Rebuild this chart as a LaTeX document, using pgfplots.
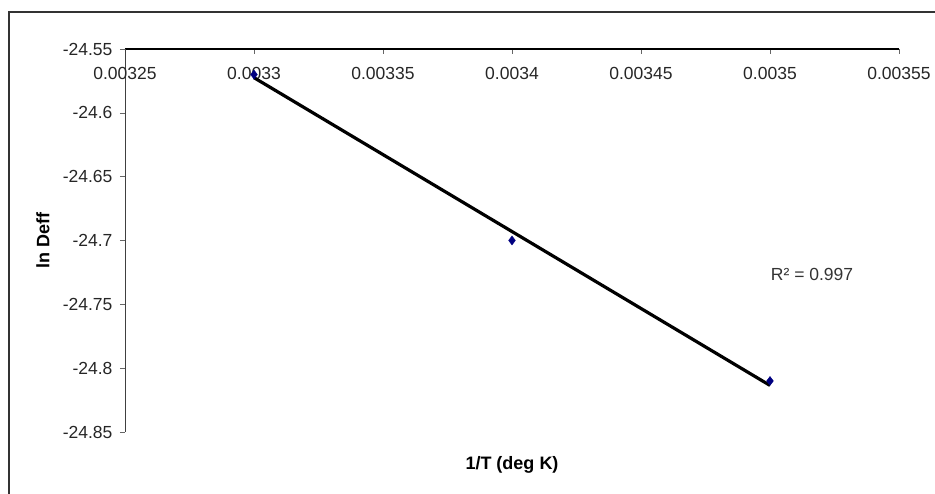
\documentclass[border=0pt]{standalone}
\usepackage{fontspec}
\setmainfont{Liberation Sans}
\usepackage{pgfplots}
\usepackage{pgfplotstable}
\pgfplotsset{compat=1.18}
\pgfplotstableread{
x y
0.0033 -24.57
0.0034 -24.70
0.0035 -24.81
}\datatable
\begin{document}
\begin{tikzpicture}
\useasboundingbox (0pt,0pt) rectangle (935pt,494pt);
\draw[line width=1.6pt, black!80] (9pt,-30pt) rectangle (970pt,482pt);
\begin{axis}[
  at={(125pt,62pt)}, anchor=south west,
  scale only axis, width=774pt, height=383pt,
  xmin=0.00325, xmax=0.00355, ymin=-24.85, ymax=-24.55,
  separate axis lines,
  axis x line=top, axis y line=left,
  x axis line style={-, line width=1.6pt, black},
  y axis line style={-, line width=0.8pt, black!75},
  xtick={0.00325,0.0033,0.00335,0.0034,0.00345,0.0035,0.00355},
  xticklabels={0.00325,0.0033,0.00335,0.0034,0.00345,0.0035,0.00355},
  ytick={-24.85,-24.8,-24.75,-24.7,-24.65,-24.6,-24.55},
  yticklabels={-24.85,-24.8,-24.75,-24.7,-24.65,-24.6,-24.55},
  scaled x ticks=false, scaled y ticks=false,
  xtick align=inside, ytick align=outside,
  major tick length=5pt,
  tick style={black!60, line width=0.6pt},
  ticklabel style={font=\fontsize{17.5}{20}\selectfont, text=black!85},
  xticklabel style={anchor=center, yshift=-24pt},
  yticklabel style={anchor=east, xshift=-4pt},
  xlabel={\textbf{1/T (deg K)}},
  ylabel={\textbf{ln Deff}},
  label style={font=\fontsize{18}{21}\selectfont},
  xlabel style={at={(axis description cs:0.5,-0.086)}, anchor=center},
  ylabel style={at={(axis description cs:-0.106,0.5)}, anchor=center, rotate=0},
  clip=false,
]
\addplot[black, line width=3.2pt] table[x=x, y={create col/linear regression={y=y}}] {\datatable};
\addplot[only marks, mark=diamond*, mark size=4.5pt, color={rgb,255:red,0;green,0;blue,128}] table[x=x,y=y] {\datatable};
\node[anchor=west, font=\fontsize{17.5}{20}\selectfont, text=black!80] at (axis cs:0.003499,-24.727) {R² = 0.997};
\end{axis}
\end{tikzpicture}
\end{document}
